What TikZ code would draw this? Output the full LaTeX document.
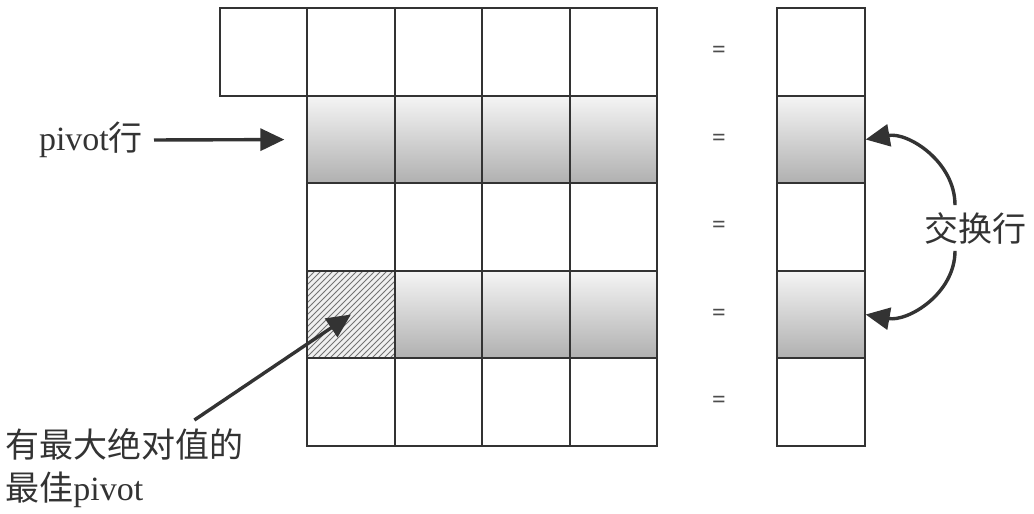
\documentclass[tikz,border=0pt]{standalone}
\usepackage{fontspec}
\setmainfont{Liberation Serif}
\newfontfamily\cjk{Noto Sans CJK SC}
\usetikzlibrary{patterns}
\usetikzlibrary{arrows.meta}

\begin{document}
\begin{tikzpicture}[x=0.5pt,y=-0.5pt]
	\tikzstyle{cell}=[draw=black!80,line width=0.9pt,minimum size=43.75pt,inner sep=0pt,fill=white]
	\tikzstyle{pivotrow}=[cell,top color=gray!8,bottom color=gray!62]
	\tikzstyle{best}=[cell,preaction={fill=gray!12},pattern=north east lines,pattern color=black!55]
	\tikzstyle{note}=[text=black!80,font=\fontsize{17}{21.5}\selectfont]
	\tikzstyle{arr}=[-{Triangle[length=12pt,width=11pt]},line width=1.7pt,draw=black!80,fill=black!80]
	\useasboundingbox (0,0) rectangle (1034,514);
	% matrix
	\foreach \c in {0,...,4} \node[cell] (m-1-\c) at (263.5+87.5*\c,52) {};
	\foreach \c in {1,...,4} \node[pivotrow] (m-2-\c) at (263.5+87.5*\c,139.5) {};
	\foreach \r in {3,5} \foreach \c in {1,...,4} \node[cell] (m-\r-\c) at (263.5+87.5*\c,{52+87.5*(\r-1)}) {};
	\node[best] (m-4-1) at (351,314.5) {};
	\foreach \c in {2,...,4} \node[pivotrow] (m-4-\c) at (263.5+87.5*\c,314.5) {};
	% right hand side
	\foreach \r in {1,3,5} \node[cell] (b-\r) at (821,{52+87.5*(\r-1)}) {};
	\foreach \r in {2,4} \node[pivotrow] (b-\r) at (821,{52+87.5*(\r-1)}) {};
	\foreach \r in {1,...,5} \node[text=black!70,font=\fontsize{12}{12}\bfseries] (eq-\r) at (719,{52+87.5*(\r-1)}) {=};
	% labels
	\node[note,anchor=east] (pivotlbl) at (150,140) {pivot{\cjk 行}};
	\draw[arr,shorten <=2pt,shorten >=11pt] (pivotlbl.east) -- (m-2-1.west);
	\node[note] (swap) at (975,228) {\cjk 交换行};
	\draw[arr,fill=none] ([xshift=-10pt]swap.north) to[out=90,in=10] (b-2.east);
	\draw[arr,fill=none] ([xshift=-10pt]swap.south) to[out=-90,in=-10] (b-4.east);
	\node[note,anchor=north west,align=left,inner sep=0pt] (bestlbl) at (5,428) {{\cjk 有最大绝对值的}\\{\cjk 最佳}pivot};
	\coordinate (beststart) at ([xshift=35pt,yshift=4pt]bestlbl.north);
	\draw[arr] (beststart) -- (m-4-1.center);
\end{tikzpicture}
\end{document}
